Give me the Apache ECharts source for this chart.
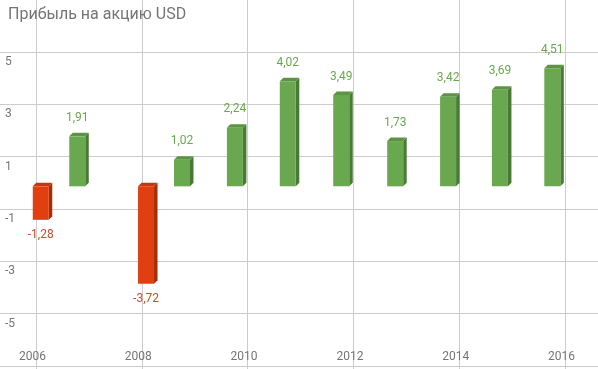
<!DOCTYPE html>
<html>
<head>
<meta charset="utf-8">
<script src="https://cdn.jsdelivr.net/npm/echarts@6/dist/echarts.min.js"></script>
<style>html,body{margin:0;padding:0;background:#fff;}#c{width:598px;height:369px;}</style>
</head>
<body>
<div id="c"></div>
<script>
// Data
const titleText = 'Прибыль на акцию USD';
const barDates = [2006.09, 2006.78, 2008.08, 2008.76, 2009.76, 2010.76, 2011.77, 2012.79, 2013.79, 2014.77, 2015.76];
const epsValues = [-1.28, 1.91, -3.72, 1.02, 2.24, 4.02, 3.49, 1.73, 3.42, 3.69, 4.51];
const yearTicks = [2006, 2008, 2010, 2012, 2014, 2016];
const valueTicks = [5, 3, 1, -1, -3, -5];

const GREEN = {front: '#6aa84f', side: '#497a35', top: '#5b9443', label: '#6aa84f'};
const RED = {front: '#e0400f', side: '#a52e0a', top: '#c5370d', label: '#d24a2a'};

// layout constants (pixels)
const X_FIRST = 36, X_LAST = 565, W = 598;
const pxPerYear = (X_LAST - X_FIRST) / (yearTicks[yearTicks.length - 1] - yearTicks[0]);
const xMin0 = yearTicks[0] - X_FIRST / pxPerYear;
const xMax0 = yearTicks[yearTicks.length - 1] + (W - X_LAST) / pxPerYear;

const chart = echarts.init(document.getElementById('c'), null, {renderer: 'canvas'});
const FONT = 'Roboto, "Noto Sans", sans-serif';

function renderItem(params, api) {
  const x = api.value(0), v = api.value(1);
  const p0 = api.coord([x, 0]);
  const p1 = api.coord([x, v]);
  const hw = 8, d = 3.5;
  const L = p0[0] - hw, R = p0[0] + hw;
  const yA = p0[1] + d, yB = p1[1] + d;
  const top = Math.min(yA, yB), bot = Math.max(yA, yB);
  const c = v >= 0 ? GREEN : RED;
  const txt = v.toFixed(2).replace('.', ',');
  const children = [
    {type: 'polygon', shape: {points: [[R, top], [R + d, top - d], [R + d, bot - d], [R, bot]]}, style: {fill: c.side}},
    {type: 'polygon', shape: {points: [[L, top], [R, top], [R + d, top - d], [L + d, top - d]]}, style: {fill: c.top}},
    {type: 'rect', shape: {x: L, y: top, width: R - L, height: bot - top}, style: {fill: c.front}},
  ];
  if (v >= 0) {
    children.push({type: 'text', style: {x: p0[0], y: top - d - 9, text: txt, fill: c.label, font: '12px ' + FONT, textAlign: 'center', textVerticalAlign: 'bottom'}});
  } else {
    children.push({type: 'text', style: {x: p0[0], y: bot + 9, text: txt, fill: c.label, font: '12px ' + FONT, textAlign: 'center', textVerticalAlign: 'top'}});
  }
  return {type: 'group', children: children};
}

const option = {
  animation: false,
  backgroundColor: '#ffffff',
  title: {text: titleText, left: 3, top: 2, textStyle: {color: '#757575', fontSize: 16, fontWeight: 'normal', fontFamily: FONT}},
  grid: [
    {left: 0, right: 0, top: 52, bottom: 3},
    {left: X_FIRST, right: W - X_LAST, top: 0, bottom: 0}
  ],
  xAxis: [
    {gridIndex: 0, type: 'value', min: xMin0, max: xMax0, show: false},
    {gridIndex: 1, type: 'value', min: yearTicks[0], max: yearTicks[yearTicks.length - 1], interval: 2,
      axisLine: {show: false}, axisTick: {show: false},
      splitLine: {show: true, lineStyle: {color: '#cccccc', width: 1}},
      axisLabel: {inside: true, margin: 6, color: '#757575', fontSize: 12, fontFamily: FONT, padding: [0, 7, 0, 0],
        formatter: v => yearTicks.indexOf(v) >= 0 ? String(v) : ''}}
  ],
  yAxis: [
    {gridIndex: 0, type: 'value', min: -7, max: 5, interval: 2,
      axisLine: {show: false}, axisTick: {show: false},
      splitLine: {show: true, lineStyle: {color: '#cccccc', width: 1}},
      axisLabel: {inside: true, margin: 5, color: '#757575', fontSize: 12, fontFamily: FONT, verticalAlign: 'top', padding: [4, 0, 0, 0],
        formatter: v => valueTicks.indexOf(v) >= 0 ? String(v) : ''}},
    {gridIndex: 1, type: 'value', min: 0, max: 1, show: false}
  ],
  series: [{
    type: 'custom',
    xAxisIndex: 0, yAxisIndex: 0,
    renderItem: renderItem,
    data: barDates.map((d, i) => [d, epsValues[i]]),
    z: 5
  }]
};
chart.setOption(option);
</script>
</body>
</html>
